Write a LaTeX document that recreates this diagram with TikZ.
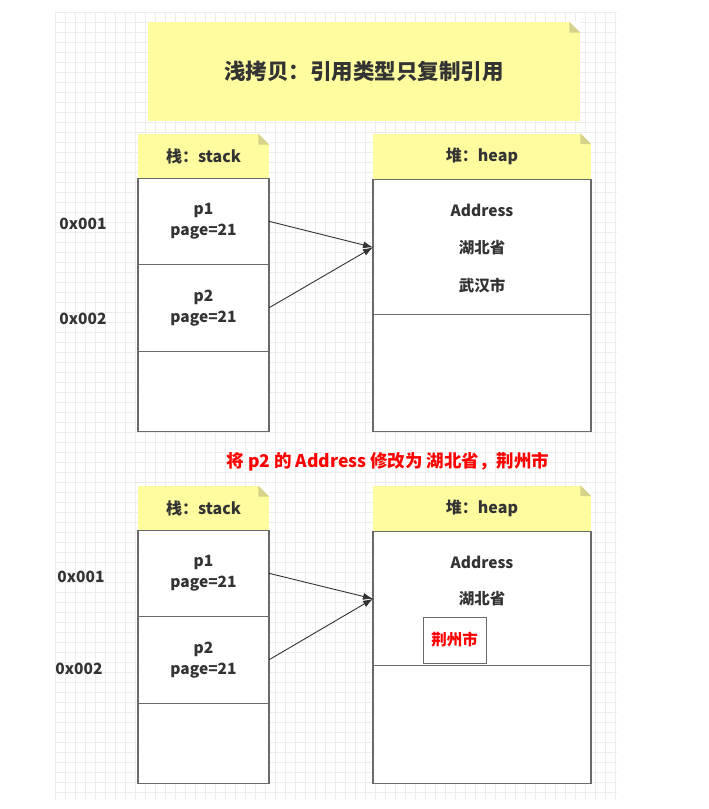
\documentclass[tikz,border=0pt]{standalone}
\usepackage{fontspec}
\setmainfont{Noto Sans CJK SC}
\usetikzlibrary{positioning,arrows.meta}
\definecolor{notey}{HTML}{FFFB9F}
\definecolor{notefold}{HTML}{D6D28A}
\definecolor{gridc}{HTML}{EDEDED}
\definecolor{boxc}{HTML}{6A6A6A}
\definecolor{txtc}{HTML}{333333}
% folded corner of a yellow note
\newcommand{\notefold}[1]{%
  \fill[white] ([xshift=-11pt]#1.north east) -- (#1.north east) -- ([yshift=-11pt]#1.north east) -- cycle;
  \fill[notefold] ([xshift=-11pt]#1.north east) -- ([xshift=-11pt,yshift=-11pt]#1.north east) -- ([yshift=-11pt]#1.north east) -- cycle;}

\begin{document}
\begin{tikzpicture}[x=1pt,y=-1pt,>={Latex[length=10pt,width=7pt]},semithick,node distance=0pt,
    font=\bfseries\fontsize{15.5}{21}\selectfont,text=txtc]
    \tikzstyle{note}=[fill=notey,inner sep=0pt,font=\bfseries\fontsize{16}{18}\selectfont]
    \tikzstyle{cell}=[draw=boxc,line width=1.1pt,fill=white,align=center,inner sep=0pt,outer sep=0pt]
    \tikzstyle{addr}=[inner sep=1pt]
    \tikzstyle{ptr}=[->,draw=txtc,line width=0.9pt]
    \useasboundingbox[fill=white] (0,0) rectangle (709,809);
    % grid paper
    \foreach \gx in {55,65,...,615} \draw[gridc,line width=0.6pt] (\gx,12) -- (\gx,800);
    \foreach \gy in {12,22,...,800} \draw[gridc,line width=0.6pt] (55,\gy) -- (617,\gy);

    \node[note,minimum width=432pt,minimum height=99pt,font=\bfseries\fontsize{21.5}{24}\selectfont] (title) at (364,71.5) {浅拷贝：引用类型只复制引用};
    \notefold{title}

    % before
    \node[note,minimum width=131pt,minimum height=44pt] (stackhdA) at (203.5,156) {栈：stack};
    \node[cell,minimum width=131pt,minimum height=86pt,below=of stackhdA] (p1A) {p1\\page=21};
    \node[cell,minimum width=131pt,minimum height=87pt,below=of p1A] (p2A) {p2\\page=21};
    \node[cell,minimum width=131pt,minimum height=80pt,below=of p2A] (freeA) {};
    \node[note,minimum width=218pt,minimum height=45pt] (heaphdA) at (482,156) {堆：heap};
    \node[cell,minimum width=218pt,minimum height=135pt,below=1pt of heaphdA] (heapA) {};
    \node[cell,minimum width=218pt,minimum height=117pt,below=of heapA] (heapfreeA) {};
    \notefold{stackhdA}
    \notefold{heaphdA}
    \node (addrA) at (482,210) {Address};
    \node (provA) at (482,248) {湖北省};
    \node (cityA) at (482,286) {武汉市};
    \node[addr] (x1A) at (83,224) {0x001};
    \node[addr] (x2A) at (83,319) {0x002};
    \draw[ptr] (p1A.east) -- (heapA.west);
    \draw[ptr] (p2A.east) -- (heapA.west);

    \node[text=red,font=\bfseries\fontsize{17.5}{20}\selectfont] (change) at (388,462) {将 p2 的 Address 修改为 湖北省，荆州市};

    % after
    \node[note,minimum width=131pt,minimum height=44pt] (stackhdB) at (203.5,508) {栈：stack};
    \node[cell,minimum width=131pt,minimum height=86pt,below=of stackhdB] (p1B) {p1\\page=21};
    \node[cell,minimum width=131pt,minimum height=87pt,below=of p1B] (p2B) {p2\\page=21};
    \node[cell,minimum width=131pt,minimum height=80pt,below=of p2B] (freeB) {};
    \node[note,minimum width=218pt,minimum height=45pt] (heaphdB) at (482,508) {堆：heap};
    \node[cell,minimum width=218pt,minimum height=134pt,below=1pt of heaphdB] (heapB) {};
    \node[cell,minimum width=218pt,minimum height=118pt,below=of heapB] (heapfreeB) {};
    \notefold{stackhdB}
    \notefold{heaphdB}
    \node (addrB) at (482,562) {Address};
    \node (provB) at (482,599) {湖北省};
    \node[draw=boxc,line width=0.9pt,minimum width=63pt,minimum height=46pt,text=red] (cityB) at (454.5,640) {荆州市};
    \node[addr] (x1B) at (81,577) {0x001};
    \node[addr] (x2B) at (79,669) {0x002};
    \draw[ptr] (p1B.east) -- (heapB.west);
    \draw[ptr] (p2B.east) -- (heapB.west);
\end{tikzpicture}
\end{document}
